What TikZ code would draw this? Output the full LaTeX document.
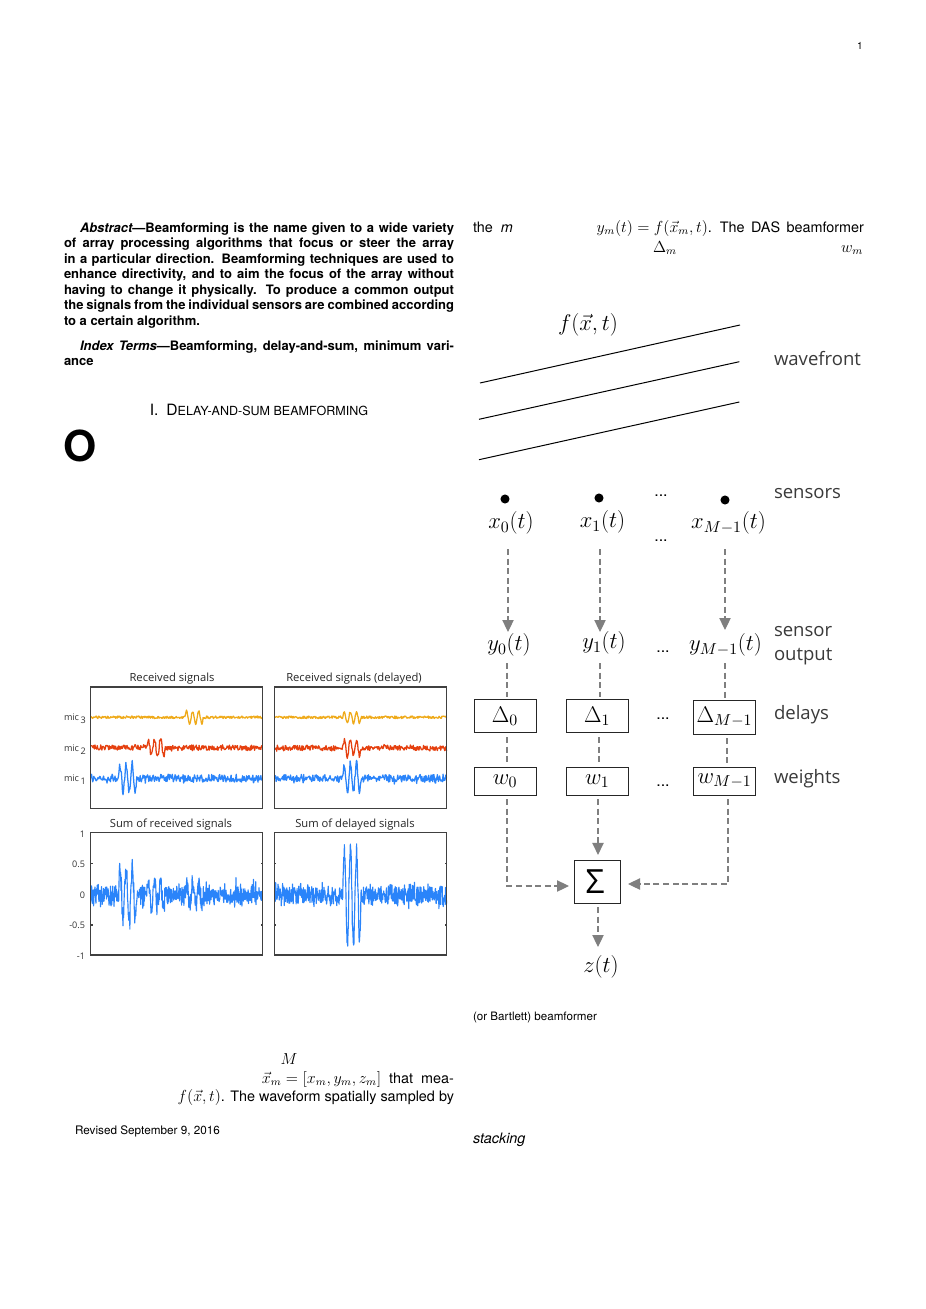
\documentclass[tikz,border=0pt]{standalone}
\usepackage{fix-cm}
\usepackage{exscale}
\usepackage[no-math]{fontspec}
\setmainfont{TeX Gyre Heros}
\newfontfamily\myr{Open Sans}
\usetikzlibrary{arrows.meta}
\definecolor{sigor}{HTML}{EFAA1A}
\definecolor{sigrd}{HTML}{E5400F}
\definecolor{sigbl}{HTML}{2A84FA}
\definecolor{flowgr}{HTML}{7F7F7F}
\definecolor{labdk}{HTML}{3A3A3A}
\newcommand{\bmath}[1]{{\fontsize{12}{13}\selectfont$#1$}}
\tikzset{
  declare function={burst(\t,\p,\A)=(\t>\p-1.5)*(\t<\p+16.8)*\A*sin(59.016*(\t-\p+1.5));},
  txt/.style={inner sep=0pt,outer sep=0pt,text=black},
  bodytxt/.style={txt,font=\fontsize{10.8}{13}\selectfont},
  abstxt/.style={txt,anchor=north west,text width=292.5pt,align=justify,font=\fontsize{9.75}{11.62}\bfseries\selectfont},
  mlab/.style={inner sep=0pt,outer sep=0pt,minimum height=22.5pt,font=\fontsize{17}{20}\selectfont},
  side/.style={inner sep=0pt,outer sep=0pt,anchor=west,text=labdk,font=\myr\fontsize{13.9}{16}\selectfont},
  dotsl/.style={inner sep=0pt,outer sep=0pt,font=\fontsize{12}{14}\selectfont},
  blk/.style={draw=black!85,line width=.7pt,inner sep=0pt,outer sep=0pt,minimum width=46.5pt,font=\fontsize{17}{20}\selectfont},
  sensor/.style={circle,fill=black,inner sep=0pt,outer sep=0pt,minimum size=6.8pt},
  flow/.style={draw=flowgr,line width=.8pt,dash pattern=on 4.5pt off 2.7pt,-{Triangle[length=9pt,width=8.5pt,fill=flowgr]}},
  flowplain/.style={draw=flowgr,line width=.8pt,dash pattern=on 4.5pt off 2.7pt},
  wave/.style={draw=black,line width=.75pt},
  panel/.style={draw=black!75,line width=.8pt},
  ptitle/.style={inner sep=0pt,outer sep=0pt,text=black!85,font=\myr\fontsize{8.4}{10}\selectfont},
  ptick/.style={inner sep=0pt,outer sep=0pt,text=black!80,font=\myr\fontsize{6.8}{8}\selectfont},
  sig/.style={line width=.95pt,line join=round},
  sigb/.style={line width=.85pt,line join=round},
}
\begin{document}
\begin{tikzpicture}[x=.75pt,y=-.75pt]
\useasboundingbox (0,0) rectangle (925,1309);
\fill[white] (0,0) rectangle (925,1309);
\pgfmathsetseed{4711}

% ---- page text
\node[txt,font=\fontsize{7.5}{9}\selectfont] (pageno) at (860,46) {1};
\node[abstxt] (abstract) at (64,222.5) {\hspace*{12pt}{\itshape Abstract}---Beamforming is the name given to a wide variety\linebreak of array processing algorithms that focus or steer the array\linebreak in a particular direction. Beamforming techniques are used to\linebreak enhance directivity, and to aim the focus of the array without\linebreak having to change it physically. To produce a common output\linebreak the signals from the individual sensors are combined according\linebreak to a certain algorithm.};
\node[abstxt] (index) at (64,340.5) {\hspace*{12pt}{\itshape Index Terms}---Beamforming, delay-and-sum, minimum vari-\linebreak ance};
\node[txt,font=\fontsize{11.7}{14}\selectfont] (heading) at (259,410) {I.\enspace D{\fontsize{9.4}{14}\selectfont ELAY-AND-SUM BEAMFORMING}};
\node[txt,font=\fontsize{32}{34}\bfseries\selectfont] (dropcap) at (80,446) {O};
\node[bodytxt,anchor=base west] (themm) at (473,232) {the\ \ \textit{m}};
\node[bodytxt,anchor=base east] (yeq) at (864,232) {\bmath{y_m(t)=f(\vec{x}_m,t)}.\ \ The\ \,DAS\ \,beamformer};
\node[bodytxt,anchor=base] (dm) at (665,252) {\bmath{\Delta_m}};
\node[bodytxt,anchor=base] (wm) at (852,252) {\bmath{w_m}};
\node[bodytxt,anchor=base] (bigm) at (289,1064) {\bmath{M}};
\node[bodytxt,anchor=base east] (xeq) at (454,1083) {\bmath{\vec{x}_m=[x_m,y_m,z_m]}\ \ that\ \ mea-};
\node[bodytxt,anchor=base east] (wavef) at (454,1101) {\bmath{f(\vec{x},t)}. The waveform spatially sampled by};
\node[txt,anchor=base west,font=\fontsize{8.8}{11}\selectfont] (rev) at (75,1134) {Revised September 9, 2016};
\node[bodytxt,anchor=base west] (stack) at (473,1143) {\textit{stacking}};
\node[txt,anchor=base west,font=\fontsize{8.7}{10}\selectfont] (bart) at (473,1020) {(or Bartlett) beamformer};

% ---- signal panels
\node[ptitle] (t1) at (172,679) {Received signals};
\node[ptitle] (t2) at (354,679) {Received signals (delayed)};
\node[ptitle] (t3) at (171,825) {Sum of received signals};
\node[ptitle] (t4) at (355,825) {Sum of delayed signals};
\node[ptick,anchor=west] (m3) at (64,718.5) {mic\raisebox{-2.2pt}{\,3}};
\node[ptick,anchor=west] (m2) at (64,749.5) {mic\raisebox{-2.2pt}{\,2}};
\node[ptick,anchor=west] (m1) at (64,779.5) {mic\raisebox{-2.2pt}{\,1}};
\node[ptick,anchor=east] (a1) at (85,834) {1};
\node[ptick,anchor=east] (a2) at (85,864) {0.5};
\node[ptick,anchor=east] (a3) at (85,895) {0};
\node[ptick,anchor=east] (a4) at (85,925) {-0.5};
\node[ptick,anchor=east] (a5) at (85,956) {-1};

% top left
\draw[sig,sigor] plot[domain=91:262,samples=300] (\x,{717.3+1.3*rand-burst(\x,186.5,6)});
\draw[sig,sigrd] plot[domain=91:262,samples=300] (\x,{747.7+2.6*rand+2*rand*rand*rand-burst(\x,148.3,8.5)});
\draw[sig,sigbl] plot[domain=91:262,samples=300] (\x,{778.3+3.6*rand+4*rand*rand*rand-burst(\x,120,14)});
% top right
\draw[sig,sigor] plot[domain=275:446.5,samples=300] (\x,{717.3+1.3*rand-burst(\x,344.3,6)});
\draw[sig,sigrd] plot[domain=275:446.5,samples=300] (\x,{747.7+2.6*rand+2*rand*rand*rand-burst(\x,344.3,8.5)});
\draw[sig,sigbl] plot[domain=275:446.5,samples=300] (\x,{778.3+3.6*rand+4*rand*rand*rand-burst(\x,344.3,14)});
% bottom left
\draw[sigb,sigbl] plot[domain=91:262,samples=520] (\x,{895+9*rand+15*rand*rand*rand-burst(\x,120,24)-burst(\x,148.3,15)-burst(\x,186.5,9)});
% bottom right
\draw[sigb,sigbl] plot[domain=275:446.5,samples=520] (\x,{895+9*rand+15*rand*rand*rand-burst(\x,344.3,44)});

\foreach \a/\b/\c/\d in {90.7/687/262.3/808.7,274.3/687/446.7/808.7,90.7/832.7/262.3/955,274.3/832.7/446.7/955}{
  \draw[panel] (\a,\b) rectangle (\c,\d);
}
\foreach \a/\c in {90.7/262.3,274.3/446.7}{
  \foreach \yy in {863.5,925}{
    \draw[panel] (\a,\yy) -- ++(1.8,0);
    \draw[panel] (\c,\yy) -- ++(-1.8,0);
  }
}

% ---- wavefronts
\node[mlab] (fx) at (588,325) {$f(\vec{x},t)$};
\draw[wave] (480,383) -- (740,325);
\draw[wave] (479,419.3) -- (739.3,361.7);
\draw[wave] (479,459.7) -- (739.3,402);
\node[side] (lwave) at (774,358) {wavefront};
\node[side] (lsens) at (774,494) {sensors};
\node[side] (lout1) at (774,632) {sensor};
\node[side] (lout2) at (774,657) {output};
\node[side] (ldel) at (774,715) {delays};
\node[side] (lwei) at (774,779) {weights};

% ---- sensors and outputs
\node[sensor] (s0) at (505,499) {};
\node[sensor] (s1) at (599,498) {};
\node[sensor] (sM) at (725,500) {};
\node[mlab] (x0) at (511,523) {$x_0(t)$};
\node[mlab] (x1) at (602.5,522) {$x_1(t)$};
\node[mlab] (xM) at (728.5,523) {$x_{M-1}(t)$};
\node[mlab] (y0) at (509,645) {$y_0(t)$};
\node[mlab] (y1) at (604,643) {$y_1(t)$};
\node[mlab] (yM) at (725.5,645) {$y_{M-1}(t)$};
\node[dotsl] (e1) at (661,496) {...};
\node[dotsl] (e2) at (661,541) {...};
\node[dotsl] (e3) at (663,652) {...};
\node[dotsl] (e4) at (663,719) {...};
\node[dotsl] (e5) at (663,786) {...};

% ---- blocks
\node[blk,minimum height=24.75pt] (d0) at (505,716) {$\Delta_0$};
\node[blk,minimum height=24.75pt] (d1) at (597.25,716) {$\Delta_1$};
\node[blk,minimum height=25.5pt] (dM) at (724.5,717) {$\Delta_{M-1}$};
\node[blk,minimum height=21pt] (w0) at (505,781) {$w_0$};
\node[blk,minimum height=21pt] (w1) at (597.25,781) {$w_1$};
\node[blk,minimum height=21pt] (wM) at (724.5,781) {$w_{M-1}$};
\node[blk,minimum width=34.5pt,minimum height=32pt] (sum) at (597.5,881.75) {{\myr\fontsize{25}{28}\selectfont Σ}\kern3.75pt};
\node[mlab] (z) at (601,967) {$z(t)$};

% ---- connectors
\draw[flow] ([shift={(-3,11)}]x0.south) -- ([shift={(-1,2)}]y0.north);
\draw[flow] ([shift={(-2.5,12)}]x1.south) -- ([shift={(-4,4)}]y1.north);
\draw[flow] ([shift={(-3.5,11)}]xM.south) -- ([shift={(-.5,0)}]yM.north);
\draw[flowplain] ([shift={(-2,3)}]y0.south) -- ([shift={(2,-2.5)}]d0.north);
\draw[flowplain] ([shift={(-4,5)}]y1.south) -- ([shift={(2.75,-2.5)}]d1.north);
\draw[flowplain] ([shift={(-.5,3)}]yM.south) -- ([shift={(.5,-2)}]dM.north);
\draw[flowplain] ([shift={(2,4.5)}]d0.south) -- ([shift={(2,-3)}]w0.north);
\draw[flowplain] ([shift={(1.75,4.5)}]d1.south) -- ([shift={(1.75,-3)}]w1.north);
\draw[flowplain] ([shift={(2.5,4)}]dM.south) -- ([shift={(2.5,-3)}]wM.north);
\draw[flow] ([shift={(2,4)}]w0.south) |- ([shift={(-5.5,4.25)}]sum.west);
\draw[flow] ([shift={(.75,4)}]w1.south) -- ([shift={(.5,-5.5)}]sum.north);
\draw[flow] ([shift={(3.5,4)}]wM.south) |- ([shift={(7.5,2.25)}]sum.east);
\draw[flow] ([shift={(.5,4)}]sum.south) -- ([shift={(-3,-5)}]z.north);
\end{tikzpicture}
\end{document}
